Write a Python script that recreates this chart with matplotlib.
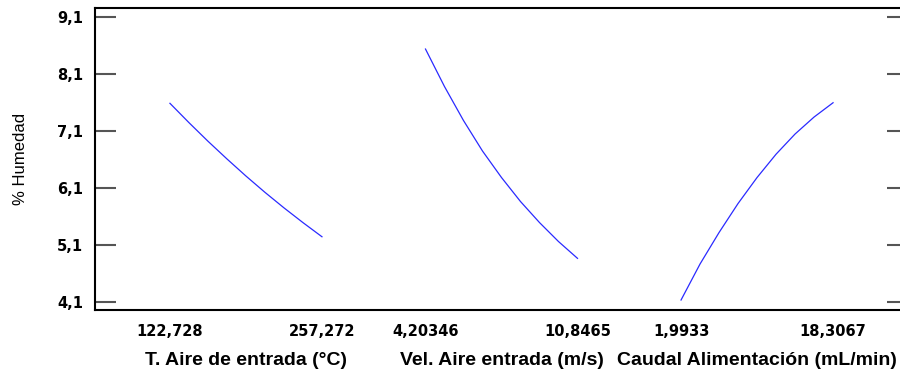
import matplotlib
matplotlib.use("Agg")
import matplotlib.pyplot as plt
import numpy as np

plt.rcParams['font.family'] = ['Liberation Sans', 'DejaVu Sans']

# Factor names and their low/high levels
factors = ["T. Aire de entrada (°C)", "Vel. Aire entrada (m/s)", "Caudal Alimentación (mL/min)"]
low_labels = ["122,728", "4,20346", "1,9933"]
high_labels = ["257,272", "10,8465", "18,3067"]

# Predicted % Humedad along each factor (low -> high), other factors at centre
humedad_temp = [7.581, 7.242, 6.916, 6.605, 6.305, 6.019, 5.747, 5.488, 5.240]
humedad_vel = [8.533, 7.875, 7.279, 6.744, 6.279, 5.858, 5.489, 5.156, 4.861]
humedad_caudal = [4.130, 4.762, 5.314, 5.823, 6.279, 6.688, 7.042, 7.340, 7.591]
series = [humedad_temp, humedad_vel, humedad_caudal]

y_ticks = [4.1, 5.1, 6.1, 7.1, 8.1, 9.1]
y_tick_labels = ["4,1", "5,1", "6,1", "7,1", "8,1", "9,1"]

step = 1.681   # spacing between factor panels (in panel-width units)
margin = 0.493

tick_font = dict(family="DejaVu Sans", size=10.5, weight="bold")

fig = plt.figure(figsize=(9.0, 3.73), dpi=100)
ax = fig.add_axes([95 / 900, 63 / 373, 813 / 900, 302 / 373])

xticks, xlabels = [], []
for i, vals in enumerate(series):
    x0 = i * step
    xs = np.linspace(x0, x0 + 1, len(vals))
    ax.plot(xs, vals, color="#2a2aff", lw=0.9, solid_joinstyle="round")
    xticks += [x0, x0 + 1]
    xlabels += [low_labels[i], high_labels[i]]
    ax.text(x0 + 0.5, -0.182, factors[i], transform=ax.get_xaxis_transform(),
            ha="center", va="baseline", fontsize=14, fontweight="bold")

ax.set_xlim(-margin, 2 * step + 1 + margin)
ax.set_ylim(3.955, 9.253)

ax.set_xticks(xticks)
ax.set_xticklabels(xlabels, fontdict=tick_font)
ax.tick_params(axis="x", length=0, pad=10)

ax.set_yticks(y_ticks)
ax.set_yticklabels(y_tick_labels, fontdict=tick_font)
ax.tick_params(axis="y", direction="in", length=15, width=1.5, color="#555555",
               left=True, right=True, pad=8.5)

for sp in ax.spines.values():
    sp.set_linewidth(1.5)
    sp.set_color("black")

ax.set_ylabel("% Humedad", fontsize=12)
ax.yaxis.set_label_coords(-0.0825, 0.5)

fig.savefig("out.png", dpi=100)
